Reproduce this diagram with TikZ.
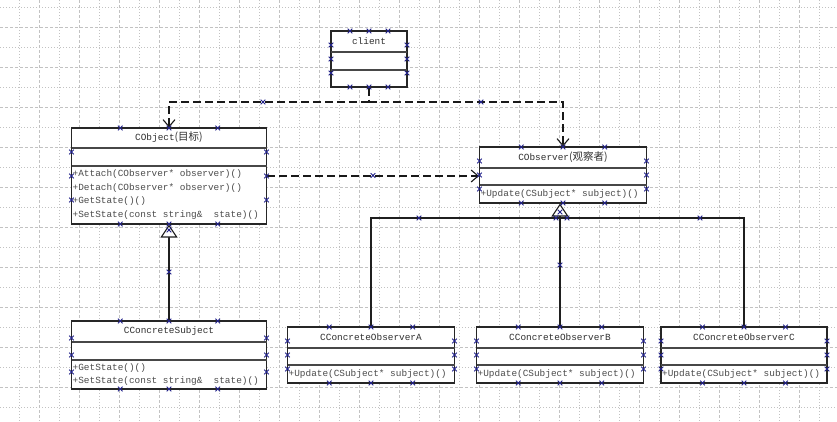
\documentclass[tikz,border=0pt]{standalone}
\usepackage{fontspec}
\newfontfamily\monof{Liberation Mono}
\newfontfamily\cjk{Noto Sans CJK SC}
\usetikzlibrary{arrows.meta}
\definecolor{gridc}{HTML}{C2C2C2}
\definecolor{mkc}{HTML}{22228A}
\definecolor{txtc}{HTML}{303030}
\newcommand\zh[1]{{\cjk\fontsize{10.5}{11}\selectfont #1}}
\tikzset{
  umlbox/.style={draw=black!85, line width=1.1pt, fill=white, inner sep=0pt},
  divline/.style={draw=black!72, line width=1.4pt},
  titletext/.style={font=\monof\fontsize{9.4}{11}\selectfont, text=txtc, inner sep=0pt, anchor=center},
  methtext/.style={font=\monof\fontsize{9.4}{11}\selectfont, text=black!70, inner sep=0pt, anchor=west},
  depline/.style={draw=black!90, line width=1.4pt, dash pattern=on 8pt off 4pt},
  deparrow/.style={depline, -{Straight Barb[length=7pt,width=12pt,line width=1.1pt]}},
  inhline/.style={draw=black!88, line width=1.7pt},
  inharrow/.style={inhline, -{Triangle[open,length=13pt,width=17pt,fill=white,line width=1.1pt]}},
  xmkline/.style={draw=mkc, line width=0.8pt},
  gdash/.style={draw=gridc, line width=0.8pt, dash pattern=on 3pt off 2pt},
  gdot/.style={draw=gridc, line width=0.8pt, dash pattern=on 1pt off 2pt},
}
\newcommand\xm[2]{\draw[xmkline] (#1,#2) +(-2.3,-2.3) -- +(2.3,2.3) +(-2.3,2.3) -- +(2.3,-2.3);}
\newcommand\boxmarks[4]{%
  \foreach \f in {0.25,0.5,0.75}{%
    \pgfmathsetmacro\mx{#1+\f*(#3-#1)}%
    \pgfmathsetmacro\my{#2+\f*(#4-#2)}%
    \xm{\mx}{#2}\xm{\mx}{#4}\xm{#1}{\my}\xm{#3}{\my}%
  }}
\begin{document}
\begin{tikzpicture}[x=1pt,y=-1pt]
\useasboundingbox (0,0) rectangle (837,421);
\fill[white] (0,0) rectangle (837,421);
% grid
\foreach \x in {19,59,...,819} \draw[gdot] (\x,0) -- (\x,421);
\foreach \x in {39,79,...,839} \draw[gdash] (\x,0) -- (\x,421);
\foreach \y in {7,47,...,407} \draw[gdot] (0,\y) -- (837,\y);
\foreach \y in {27,67,...,427} \draw[gdash] (0,\y) -- (837,\y);

% ---------- boxes ----------
% client
\node[umlbox, minimum width=76pt, minimum height=56pt] (client) at (369,59) {};
\draw[divline] (331,52) -- (407,52);
\draw[divline] (331,70) -- (407,70);
\node[titletext] (clientT) at (369,41.5) {client};

% CObject
\node[umlbox, minimum width=195pt, minimum height=96pt] (cobj) at (169,176) {};
\draw[divline] (71.5,148) -- (266.5,148);
\draw[divline] (71.5,166) -- (266.5,166);
\node[titletext] (cobjT) at (169,137.5) {CObject\zh{(目标)}};
\node[methtext] (cobjM1) at (72.5,174) {+Attach(CObserver* observer)()};
\node[methtext] (cobjM2) at (72.5,188) {+Detach(CObserver* observer)()};
\node[methtext] (cobjM3) at (72.5,201.5) {+GetState()()};
\node[methtext] (cobjM4) at (72.5,215) {+SetState(const string\&~~state)()};

% CObserver
\node[umlbox, minimum width=167pt, minimum height=56pt] (cobs) at (563,175) {};
\draw[divline] (479.5,168) -- (646.5,168);
\draw[divline] (479.5,185) -- (646.5,185);
\node[titletext] (cobsT) at (563,157.5) {CObserver\zh{(观察者)}};
\node[methtext] (cobsM1) at (480.5,194) {+Update(CSubject* subject)()};

% CConcreteSubject
\node[umlbox, minimum width=195pt, minimum height=68pt] (csub) at (169,355) {};
\draw[divline] (71.5,342) -- (266.5,342);
\draw[divline] (71.5,360) -- (266.5,360);
\node[titletext] (csubT) at (169,331.5) {CConcreteSubject};
\node[methtext] (csubM1) at (72.5,368.5) {+GetState()()};
\node[methtext] (csubM2) at (72.5,381.5) {+SetState(const string\&~~state)()};

% Observers A, B, C
\node[umlbox, minimum width=167pt, minimum height=56pt] (obsA) at (371,355) {};
\draw[divline] (287.5,348) -- (454.5,348);
\draw[divline] (287.5,365) -- (454.5,365);
\node[titletext] (obsAT) at (371,337.5) {CConcreteObserverA};
\node[methtext] (obsAM) at (288.5,374) {+Update(CSubject* subject)()};

\node[umlbox, minimum width=167pt, minimum height=56pt] (obsB) at (560,355) {};
\draw[divline] (476.5,348) -- (643.5,348);
\draw[divline] (476.5,365) -- (643.5,365);
\node[titletext] (obsBT) at (560,337.5) {CConcreteObserverB};
\node[methtext] (obsBM) at (477.5,374) {+Update(CSubject* subject)()};

\node[umlbox, minimum width=166pt, minimum height=56pt] (obsC) at (744,355) {};
\draw[divline] (661,348) -- (827,348);
\draw[divline] (661,365) -- (827,365);
\node[titletext] (obsCT) at (744,337.5) {CConcreteObserverC};
\node[methtext] (obsCM) at (662,374) {+Update(CSubject* subject)()};

% ---------- connectors ----------
\coordinate (split) at (369,102);
\draw[depline] (client.south) -- (split);
\draw[deparrow] (split) -| (cobj.north);
\draw[deparrow] (split) -| (cobs.north);
\draw[deparrow] (cobj.east) -- (cobj.east -| cobs.west);

\draw[inharrow] (csub.north) -- (cobj.south);

\coordinate (bar) at (563,218);
\draw[inhline] (obsA.north) |- (bar) -| (obsC.north);
\draw[inharrow] (obsB.north) -- (obsB.north |- cobs.south);

% ---------- connection point markers ----------
\boxmarks{331}{31}{407}{87}
\boxmarks{71.5}{128}{266.5}{224}
\boxmarks{479.5}{147}{646.5}{203}
\boxmarks{71.5}{321}{266.5}{389}
\boxmarks{287.5}{327}{454.5}{383}
\boxmarks{476.5}{327}{643.5}{383}
\boxmarks{661}{327}{827}{383}
\xm{263}{102}\xm{481}{102}
\xm{373}{175.5}
\xm{169}{230}\xm{169}{272}
\xm{560}{212}\xm{556}{218}\xm{567}{218}
\xm{419}{218}\xm{700}{218}
\xm{560}{265}
\end{tikzpicture}
\end{document}
